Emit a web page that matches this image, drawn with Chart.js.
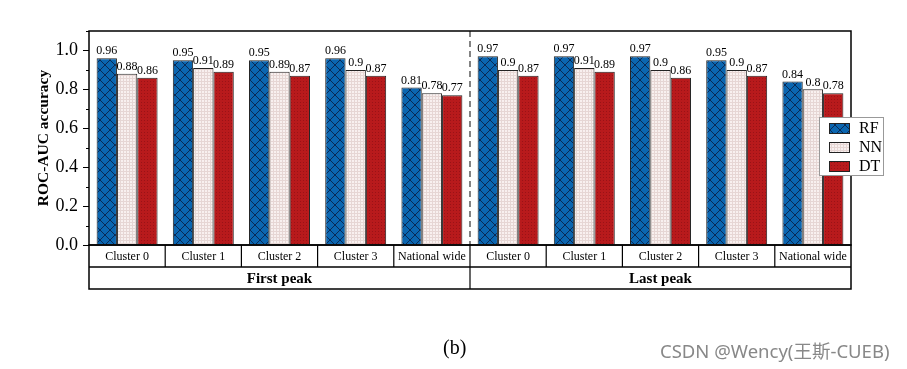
<!DOCTYPE html>
<html>
<head>
<meta charset="utf-8">
<script src="https://cdn.jsdelivr.net/npm/chart.js@4"></script>
<style>
  html, body { margin: 0; padding: 0; background: #fff; }
  #wrap { position: relative; width: 907px; height: 369px; }
  #caption { position: absolute; left: 443px; top: 336px; font: 20px "Liberation Serif", serif; color: #000; }
  #mark { position: absolute; left: 660px; top: 337px; font: 18.5px "Noto Sans", "Noto Sans CJK SC", sans-serif; color: #888; white-space: nowrap; }
</style>
</head>
<body>
<div id="wrap">
  <canvas id="chart" width="907" height="369"></canvas>
  <div id="caption">(b)</div>
  <div id="mark">CSDN @Wency(王斯-CUEB)</div>
</div>
<script>
// categories (5 per peak)
const categories = ['Cluster 0', 'Cluster 1', 'Cluster 2', 'Cluster 3', 'National wide',
                    'Cluster 0', 'Cluster 1', 'Cluster 2', 'Cluster 3', 'National wide'];
const groups = ['First peak', 'Last peak'];

// series values
const rfValues = [0.96, 0.95, 0.95, 0.96, 0.81, 0.97, 0.97, 0.97, 0.95, 0.84];
const nnValues = [0.88, 0.91, 0.89, 0.9, 0.78, 0.9, 0.91, 0.9, 0.9, 0.8];
const dtValues = [0.86, 0.89, 0.87, 0.87, 0.77, 0.87, 0.89, 0.86, 0.87, 0.78];

const yTicks = [0, 0.2, 0.4, 0.6, 0.8, 1.0];

const SERIF = '"Liberation Serif", "Times New Roman", serif';

// hatch patterns
function makePattern(kind) {
    const c = document.createElement('canvas');
    const x = c.getContext('2d');
    if (kind === 'rf') {
        c.width = 10; c.height = 10;
        x.fillStyle = '#0b66b0';
        x.fillRect(0, 0, 10, 10);
        x.strokeStyle = '#0a2a55';
        x.lineWidth = 1;
        x.beginPath();
        x.moveTo(0, 0); x.lineTo(10, 10);
        x.moveTo(10, 0); x.lineTo(0, 10);
        x.stroke();
    } else if (kind === 'nn') {
        c.width = 3; c.height = 3;
        x.fillStyle = '#f8f0ef';
        x.fillRect(0, 0, 3, 3);
        x.fillStyle = '#e6d6d4';
        x.fillRect(0, 0, 1, 3);
        x.fillRect(0, 0, 3, 1);
    } else {
        c.width = 3; c.height = 3;
        x.fillStyle = '#b81a1c';
        x.fillRect(0, 0, 3, 3);
        x.fillStyle = '#9a1216';
        x.fillRect(0, 0, 1, 1);
    }
    return x.createPattern(c, 'repeat');
}

const fills = [makePattern('rf'), makePattern('nn'), makePattern('dt')];
const names = ['RF', 'NN', 'DT'];

const fmt = v => String(+v.toFixed(2));

// value labels, minor ticks, frame, category table, legend
const decor = {
    id: 'decor',
    afterDatasetsDraw(chart) {
        const { ctx, chartArea: a, scales: { x, y } } = chart;
        ctx.save();

        // value labels
        ctx.fillStyle = '#000';
        ctx.font = '12px ' + SERIF;
        ctx.textAlign = 'center';
        ctx.textBaseline = 'bottom';
        chart.data.datasets.forEach((ds, i) => {
            chart.getDatasetMeta(i).data.forEach((bar, j) => {
                ctx.fillText(fmt(ds.data[j]), bar.x, bar.y - 1);
            });
        });

        // y title
        ctx.save();
        ctx.translate(44, 138);
        ctx.rotate(-Math.PI / 2);
        ctx.font = 'bold 15.5px ' + SERIF;
        ctx.textBaseline = 'middle';
        ctx.fillText('ROC-AUC accuracy', 0, 0);
        ctx.restore();

        // dashed separator between peaks
        const mid = (x.getPixelForValue(4) + x.getPixelForValue(5)) / 2;
        ctx.strokeStyle = '#333';
        ctx.lineWidth = 1.2;
        ctx.setLineDash([6, 4]);
        ctx.beginPath();
        ctx.moveTo(mid, a.top);
        ctx.lineTo(mid, a.bottom);
        ctx.stroke();
        ctx.setLineDash([]);

        // frame
        ctx.strokeStyle = '#000';
        ctx.lineWidth = 1.5;
        ctx.strokeRect(a.left, a.top, a.right - a.left, a.bottom - a.top);

        // minor ticks
        ctx.lineWidth = 1;
        for (let v = 0.1; v < 1.1; v += 0.2) {
            const py = Math.round(y.getPixelForValue(v)) + 0.5;
            ctx.beginPath();
            ctx.moveTo(a.left - 3, py);
            ctx.lineTo(a.left, py);
            ctx.stroke();
        }

        // category table
        const row1 = a.bottom, row2 = a.bottom + 22, row3 = a.bottom + 44;
        ctx.lineWidth = 1.5;
        ctx.strokeRect(a.left, row1, a.right - a.left, row3 - row1);
        ctx.beginPath();
        ctx.moveTo(a.left, row2); ctx.lineTo(a.right, row2);
        ctx.stroke();
        ctx.lineWidth = 1.2;
        const step = (a.right - a.left) / categories.length;
        ctx.font = '12px ' + SERIF;
        ctx.textBaseline = 'middle';
        categories.forEach((c, i) => {
            if (i > 0) {
                const px = a.left + step * i;
                ctx.beginPath();
                ctx.moveTo(px, row1);
                ctx.lineTo(px, i === 5 ? row3 : row2);
                ctx.stroke();
            }
            ctx.fillText(c, x.getPixelForValue(i), (row1 + row2) / 2 + 1);
        });
        ctx.font = 'bold 15px ' + SERIF;
        groups.forEach((g, k) => {
            const cx = a.left + step * (k * 5 + 2.5);
            ctx.fillText(g, cx, (row2 + row3) / 2 + 1);
        });

        // legend box
        const lx = 819, ly = 117, lw = 64, lh = 58;
        ctx.fillStyle = '#fff';
        ctx.fillRect(lx, ly, lw, lh);
        ctx.strokeStyle = '#999';
        ctx.lineWidth = 1;
        ctx.strokeRect(lx + 0.5, ly + 0.5, lw, lh);
        ctx.font = '16px ' + SERIF;
        ctx.textAlign = 'left';
        names.forEach((n, i) => {
            const ry = ly + 11 + i * 19;
            ctx.fillStyle = fills[i];
            ctx.fillRect(lx + 10, ry - 5, 21, 11);
            ctx.strokeStyle = '#222';
            ctx.strokeRect(lx + 10.5, ry - 4.5, 20, 10);
            ctx.fillStyle = '#000';
            ctx.fillText(n, lx + 40, ry + 1);
        });

        ctx.restore();
    }
};

new Chart(document.getElementById('chart'), {
    type: 'bar',
    data: {
        labels: categories,
        datasets: names.map((n, i) => ({
            label: n,
            data: [rfValues, nnValues, dtValues][i],
            backgroundColor: fills[i],
            borderColor: '#222',
            borderWidth: 1,
            categoryPercentage: 0.8,
            barPercentage: 1.0
        }))
    },
    options: {
        responsive: false,
        animation: false,
        layout: { padding: { left: 0, top: 31, right: 56, bottom: 124 } },
        plugins: {
            legend: { display: false },
            tooltip: { enabled: false }
        },
        scales: {
            x: { display: false },
            y: {
                min: 0,
                max: 1.1,
                afterFit: s => { s.width = 89; },
                afterBuildTicks: s => { s.ticks = yTicks.map(v => ({ value: v })); },
                ticks: {
                    color: '#000',
                    font: { family: SERIF, size: 18 },
                    padding: 5,
                    callback: v => v.toFixed(1)
                },
                grid: {
                    drawOnChartArea: false,
                    tickLength: 6,
                    tickColor: '#000',
                    tickWidth: 1
                },
                border: { display: false }
            }
        }
    },
    plugins: [decor]
});
</script>
</body>
</html>
